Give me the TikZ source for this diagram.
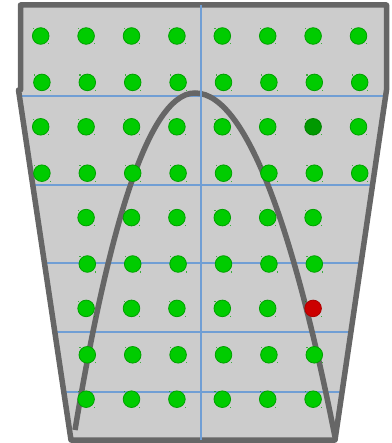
\documentclass[tikz,border=0pt]{standalone}
\definecolor{shapefill}{HTML}{CCCCCC}
\definecolor{edgegray}{HTML}{666666}
\definecolor{gridblue}{RGB}{112,158,212}
\definecolor{dotgreen}{HTML}{00CC00}
\definecolor{dotedge}{HTML}{00A000}
\definecolor{darkgreen}{HTML}{009900}
\definecolor{badred}{HTML}{CC0000}
\begin{document}
\begin{tikzpicture}[x=1pt,y=-1pt,
  outline/.style={draw=edgegray, line width=5.5pt, line join=round},
  gridline/.style={draw=gridblue, line width=2pt},
  curveline/.style={draw=edgegray, line width=5.5pt},
  dot/.style={circle, minimum size=16.6pt, inner sep=0pt, line width=0.8pt},
  dotok/.style={fill=dotgreen, draw=dotedge},
  dotdark/.style={fill=darkgreen, draw=darkgreen!85!black},
  dotbad/.style={fill=badred, draw=badred!85!black},
  speck/.style={fill=dotedge, opacity=0.7}]
\useasboundingbox (0,0) rectangle (391,443);
% shape corners
\coordinate (tl) at (20.5,5);
\coordinate (tr) at (386.5,5);
\coordinate (mr) at (386.5,90);
\coordinate (br) at (335,440);
\coordinate (bl) at (71,440);
\coordinate (ml) at (18.5,90);
\coordinate (mlk) at (20.5,90);
\fill[shapefill] (tl) -- (tr) -- (mr) -- (br) -- (bl) -- (ml) -- (mlk) -- cycle;
% horizontal grid lines
\draw[gridline] (19.7,96.5) -- (385.3,96.5);
\draw[gridline] (32.9,185) -- (372.4,185);
\draw[gridline] (44.6,263) -- (360.9,263);
\draw[gridline] (54.8,331.5) -- (350.9,331.5);
\draw[gridline] (63.8,392) -- (342,392);
% curve
\coordinate (cl) at (75,430);
\coordinate (ctop) at (195,93);
\coordinate (cr) at (335,437);
\draw[curveline] (cl) .. controls (105,250) and (145,93) .. (ctop)
  .. controls (250,93) and (298,250) .. (cr);
% outline
\draw[outline] (tl) -- (tr) -- (mr) -- (br) -- (bl) -- (ml) -- (mlk) -- cycle;
% vertical grid line
\draw[gridline] (200.5,5) -- (200.5,440);
% dots
\foreach \r/\cols in {1/{1,...,8},2/{1,...,8},3/{1,...,8},4/{1,...,8},5/{2,...,7},6/{2,...,7},7/{2,...,7},8/{2,...,7},9/{2,...,7}}{
  \foreach \c in \cols {
    \pgfmathsetmacro\px{40.7+45.4*(\c-1)+1.2*(1-mod(\r,2))}
    \pgfmathsetmacro\py{36+45.4*(\r-1)+1.0*(1-mod(\r,2))}
    \edef\kind{\ifnum\r\c=37 dark\else\ifnum\r\c=77 bad\else ok\fi\fi}
    \node[dot, dot\kind] (d-\r-\c) at (\px,\py) {};
    \fill[speck] (\px-7.9,\py-7.9) rectangle ++(1.1,1.1);
    \fill[speck] (\px+7.6,\py+7.4) rectangle ++(1.1,1.1);
  }
}
\end{tikzpicture}
\end{document}
